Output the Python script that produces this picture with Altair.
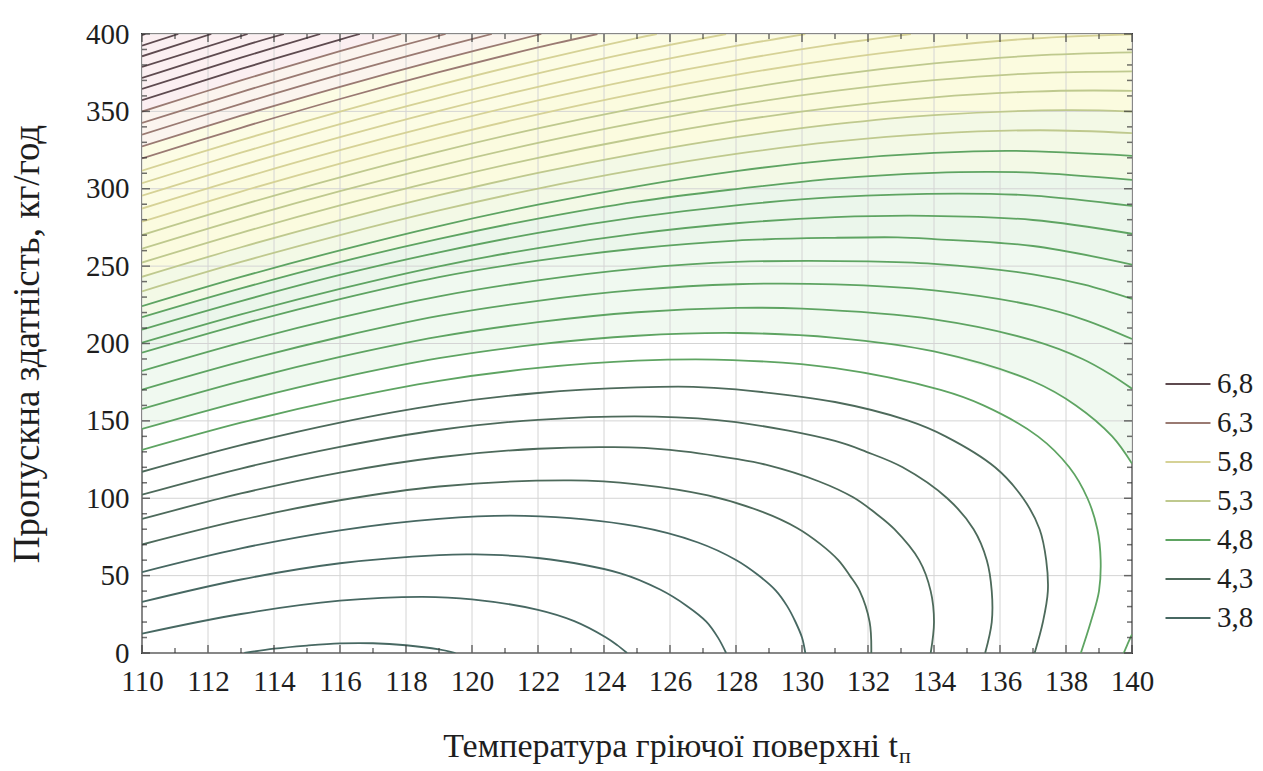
import altair as alt
import pandas as pd

# ---- contour lines: (temperature, throughput) points, one list per level ----
c01 = [(113.1,0),(114,2.8),(115,4.8),(116,6.2),(117,6.3),(118,5.0),(119,2.3),(119.5,0)]
c02 = [(110,12.5),(113,25.2),(116,33.8),(118.5,36.3),(120,34.7),(122,27.9),(123.1,20.6),(124.05,10.2),(124.4,5.1),(124.7,0)]
c03 = [(110,33.0),(113,47.5),(116,58.0),(119,63.3),(120.1,63.7),(122,61.4),(124.5,51.5),(125.7,41.0),(126.5,30.6),(127.1,20.3),(127.45,10.1),(127.7,0)]
c04 = [(110,52.3),(113,67.6),(116,79.3),(119,86.7),(121.6,88.6),(125,81.8),(126.85,71.4),(128,60.1),(128.65,50.7),(129.2,40.5),(129.55,30.3),(129.8,20.2),(130.0,10),(130.1,0)]
c05 = [(110,70.1),(113,86.0),(116,98.7),(119,107.6),(123.0,111.5),(125,109.0),(127.15,101.8),(128.8,91.2),(129.85,80.8),(130.55,70.5),(131.1,60),(131.45,50),(131.75,40),(132.05,20),(132.1,0)]
c06 = [(110,86.6),(113,103.1),(116,116.6),(119,126.5),(122,132.0),(124.3,133.0),(126,131.3),(128,125.4),(128.9,121.7),(130.5,111.0),(131.55,100.6),(132.25,90),(132.8,80),(133.55,60),(133.9,40),(134.0,20),(133.9,0)]
c07 = [(110,102.3),(113,119.2),(116,133.2),(119,144.1),(122,150.7),(125.55,152.8),(128,149.2),(131,137.0),(131.95,130),(133.05,120),(134.4,100),(135.2,80),(135.6,60),(135.75,40),(135.75,20),(135.55,0)]
c08 = [(110,117.1),(113,134.3),(116,148.9),(119,160.5),(122,168.0),(125,171.6),(126.7,172.0),(128,170.3),(131,162.2),(133.2,150.3),(134.35,140),(135.85,120),(136.7,100),(137.2,80),(137.4,60),(137.45,40),(137.3,20),(137.05,0)]
c09 = [(110,131.2),(113,148.8),(116,163.7),(119,175.9),(122,184.2),(125,188.9),(127.9,189.3),(131,184.1),(134.2,170),(135.5,160),(137.15,140),(138.1,120),(138.65,100),(138.95,80),(139.05,60),(139.0,40),(138.75,20),(138.45,0)]
c10a = [(110,144.8),(113,162.5),(116,177.8),(119,190.5),(122,199.4),(125,205.0),(128,206.8),(131,203.7),(134,194.9),(137,175.6),(138.3,160),(139.4,140),(140,122.4)]
c10b = [(140,12.0),(139.85,5),(139.75,0)]
c11 = [(110,157.7),(113,175.7),(116,191.3),(119,204.4),(122,213.8),(125,220.2),(128,223.0),(130,222.5),(134,215.6),(137,202.0),(138.5,190),(139.35,180),(140,170.8)]
c12 = [(110,170.2),(113,188.3),(116,204.2),(119,217.8),(122,227.6),(125,234.6),(128,238.3),(131,238.2),(134,234.3),(137,224.6),(138.6,215),(140,202.9)]
c13 = [(110,182.3),(113,200.6),(116,216.7),(119,230.5),(122,240.8),(125,248.4),(128,252.7),(132,253.1),(134,251.5),(137,244.7),(138.55,238),(140,228.8)]
c14 = [(110,194.1),(113,212.4),(116,228.7),(119,242.9),(122,253.5),(125,261.4),(128,266.5),(131,268.3),(132.9,268.6),(134,267.5),(137,263.0),(140,251.0)]
c15 = [(110,200.5),(113,218.8),(116,235.3),(119,249.9),(122,261.7),(125,271.0),(128,277.7),(131,281.6),(133.8,282.5),(137,279.8),(140,270.9)]
c16 = [(110,209.0),(113,227.4),(116,244.3),(119,258.9),(122,271.5),(125,281.6),(128,289.3),(131,294.6),(134.7,296.9),(137,295.6),(140,288.9)]
c17 = [(110,217.0),(113,235.6),(116,252.6),(119,267.6),(122,280.7),(125,291.7),(128,299.8),(131,306.6),(134,310.3),(135.6,310.9),(137,310.4),(140,305.7)]
c18 = [(110,224.1),(113,243.0),(116,260.2),(119,275.9),(122,289.7),(125,301.6),(128,311.4),(131,318.7),(134,323.2),(136.4,324.5),(140,321.3)]
c19 = [(110,233.7),(113,252.7),(116,270.1),(119,286.0),(122,300.1),(125,312.3),(128,322.5),(131,330.4),(134,335.6),(137.2,337.8),(140,336.0)]
c20 = [(110,243.1),(113,262.2),(116,279.8),(119,295.8),(122,310.2),(125,322.7),(128,333.3),(131,341.7),(134,347.6),(138.0,350.8),(140,349.9)]
c21 = [(110,252.3),(113,271.5),(116,289.2),(119,305.4),(122,320.0),(125,332.8),(128,343.8),(131,352.6),(134,359.1),(137,362.8),(138.8,363.5),(140,363.2)]
c22 = [(110,261.3),(113,280.6),(116,298.4),(119,314.8),(122,329.6),(125,342.7),(128,354.0),(131,363.2),(134,370.2),(137,374.6),(140,375.9)]
c23 = [(110,270.1),(113,289.4),(116,307.4),(119,324.0),(122,339.0),(125,352.3),(128,363.9),(131,373.6),(134,381.0),(137,386.0),(140,388.1)]
c24 = [(110,278.7),(113,298.2),(116,316.3),(119,332.9),(122,348.1),(125,361.7),(128,373.6),(131,383.6),(134,391.5),(137,397.1),(140,399.8)]
c25 = [(110,287.2),(113,306.7),(116,324.9),(119,341.7),(122,357.1),(125,370.9),(128,383.0),(131,393.4),(133.3,400)]
c26 = [(110,295.5),(113,315.1),(116,333.4),(119,350.4),(122,365.9),(125,379.9),(128,392.3),(130.1,400)]
c27 = [(110,303.6),(113,323.3),(116,341.8),(119,358.8),(122,374.5),(125,388.7),(127.7,400)]
c28 = [(110,311.7),(113,331.4),(116,349.9),(119,367.1),(122,383.0),(125,397.4),(125.6,400)]
c29 = [(110,319.6),(113,339.4),(116,358.0),(119,375.3),(122,391.3),(123.8,400)]
c30 = [(110,327.3),(113,347.2),(116,365.9),(119,383.3),(122.1,400)]
c31 = [(110,335.0),(113,354.9),(116,373.7),(119,391.2),(120.6,400)]
c32 = [(110,342.5),(113,362.5),(116,381.4),(119.2,400)]
c33 = [(110,349.9),(113,370.0),(116,388.9),(117.85,400)]
c34 = [(110,357.3),(113,377.4),(116,396.4),(116.6,400)]
c35 = [(110,364.5),(113,384.7),(115.4,400)]
c36 = [(110,371.6),(113,391.9),(114.3,400)]
c37 = [(110,378.7),(113.2,400)]
c38 = [(110,385.6),(112.1,400)]
c39 = [(110,392.5),(111.1,400)]
c40 = [(110,399.3),(110.1,400)]

contours = [[c01],[c02],[c03],[c04],[c05],[c06],[c07],[c08],[c09],[c10a,c10b],
            [c11],[c12],[c13],[c14],[c15],[c16],[c17],[c18],[c19],[c20],
            [c21],[c22],[c23],[c24],[c25],[c26],[c27],[c28],[c29],[c30],
            [c31],[c32],[c33],[c34],[c35],[c36],[c37],[c38],[c39],[c40]]

# legend classes and which class each contour belongs to
band_domain = ["6,8", "6,3", "5,8", "5,3", "4,8", "4,3", "3,8"]
band_colors = ["#5e4a4f", "#9a7a72", "#d6d296", "#bfc98e", "#5ea462", "#4d6a5b", "#476862"]
band_of = ["3,8"]*4 + ["4,3"]*4 + ["4,8"]*10 + ["5,3"]*5 + ["5,8"]*5 + ["6,3"]*5 + ["6,8"]*7

# faint background tints between contours, each filling the area above one contour
tint_names = ["t1", "t2", "t3", "t4", "t5", "t6", "t7"]
tint_colors = ["#f0f9f0", "#ebf6eb", "#f3f9e6", "#fbfbdf", "#fcfce4", "#fbf4ee", "#fbeff1"]
tint_edges = [c10a, c14, c17, c20, c25, c30, c33]

# axis ticks
x_ticks = list(range(110, 141, 2))
x_minor = list(range(111, 140, 2))
y_ticks = list(range(0, 401, 50))
y_minor = [v for v in range(10, 400, 10) if v % 50]

X_TITLE = "Температура гріючої поверхні t"
X_SUB = "п"
Y_TITLE = "Пропускна здатність, кг/год"

W, H = 990, 619
FONT = "Liberation Serif"

rows = []
for k, pieces in enumerate(contours):
    for p, pts in enumerate(pieces):
        for i, (x, y) in enumerate(pts):
            rows.append({"line": f"L{k+1}_{p}", "i": i, "x": x, "y": y, "band": band_of[k]})
df = pd.DataFrame(rows)

fill_rows = []
for name, pts in zip(tint_names, tint_edges):
    for x, y in pts:
        fill_rows.append({"tint": name, "x": x, "y": y, "top": 400})
fdf = pd.DataFrame(fill_rows)

xs = alt.Scale(domain=[110, 140], nice=False, zero=False)
ys = alt.Scale(domain=[0, 400], nice=False, zero=False)
xaxis = alt.Axis(values=x_ticks, format="d", ticks=False, domain=False, grid=False, labelFlush=False,
                 labelFont=FONT, labelFontSize=29, labelColor="#1e1e1e", labelPadding=14)
yaxis = alt.Axis(values=y_ticks, format="d", ticks=False, domain=False, grid=False, labelFlush=False,
                 labelFont=FONT, labelFontSize=29, labelColor="#1e1e1e", labelPadding=13,
                 titleFont=FONT, titleFontSize=37, titleFontWeight="normal",
                 titleColor="#1e1e1e", titleX=-96)

def X(f):
    return alt.X(f, scale=xs, axis=xaxis, title=None)

def Y(f):
    return alt.Y(f, scale=ys, axis=yaxis, title=Y_TITLE)

fills = alt.Chart(fdf).mark_area(opacity=1, clip=True).encode(
    x=X("x:Q"), y=Y("y:Q"), y2="top:Q",
    color=alt.Color("tint:N", scale=alt.Scale(domain=tint_names, range=tint_colors), legend=None),
)

grid_v = alt.Chart(pd.DataFrame({"x": x_ticks})).mark_rule(color="#d4d4d4", strokeWidth=1).encode(x=X("x:Q"))
grid_h = alt.Chart(pd.DataFrame({"y": y_ticks})).mark_rule(color="#d4d4d4", strokeWidth=1).encode(y=Y("y:Q"))

lines = alt.Chart(df).mark_line(strokeWidth=1.8, interpolate="catmull-rom", clip=True).encode(
    x=X("x:Q"),
    y=Y("y:Q"),
    detail="line:N",
    order="i:Q",
    stroke=alt.Stroke("band:N", scale=alt.Scale(domain=band_domain, range=band_colors),
                      legend=alt.Legend(title=None, orient="none", legendX=1030, legendY=334,
                                        symbolType="M-1.5,0L1.5,0", symbolSize=900, symbolStrokeWidth=2,
                                        labelFont=FONT, labelFontSize=29, labelColor="#1e1e1e",
                                        labelOffset=13, rowPadding=8, padding=0)),
)

def tick_layer(vals, chan, size, pos):
    if chan == "x":
        d = pd.DataFrame({"x": vals})
        return alt.Chart(d).mark_tick(orient="vertical", size=size, thickness=1.5, color="#333").encode(
            x=X("x:Q"), y=alt.value(pos))
    d = pd.DataFrame({"y": vals})
    return alt.Chart(d).mark_tick(orient="horizontal", size=size, thickness=1.5, color="#333").encode(
        y=Y("y:Q"), x=alt.value(pos))

ticks = (tick_layer(x_ticks, "x", 8, H - 4) + tick_layer(x_minor, "x", 5, H - 2.5)
         + tick_layer(x_ticks, "x", 8, 4) + tick_layer(x_minor, "x", 5, 2.5)
         + tick_layer(y_ticks, "y", 8, 4) + tick_layer(y_minor, "y", 5, 2.5)
         + tick_layer(y_ticks, "y", 8, W - 4) + tick_layer(y_minor, "y", 5, W - 2.5))

one = pd.DataFrame({"a": [0]})
xtitle = alt.Chart(one).mark_text(text=X_TITLE, align="right", baseline="alphabetic", font=FONT,
                                  fontSize=34, color="#1e1e1e").encode(x=alt.value(756), y=alt.value(723))
xsub = alt.Chart(one).mark_text(text=X_SUB, align="left", baseline="alphabetic", font=FONT,
                                fontSize=22, color="#1e1e1e").encode(x=alt.value(757), y=alt.value(729))

chart = alt.layer(fills, grid_v, grid_h, lines, ticks, xtitle, xsub).resolve_scale(
    color="independent", stroke="independent"
).properties(
    width=W, height=H,
    autosize=alt.AutoSizeParams(type="none"),
    padding={"left": 142, "top": 34, "right": 131, "bottom": 118},
    background="white",
).configure_view(stroke="#3a3a3a", strokeWidth=2)

chart.save("out.html", embed_options={"renderer": "svg", "actions": False})
